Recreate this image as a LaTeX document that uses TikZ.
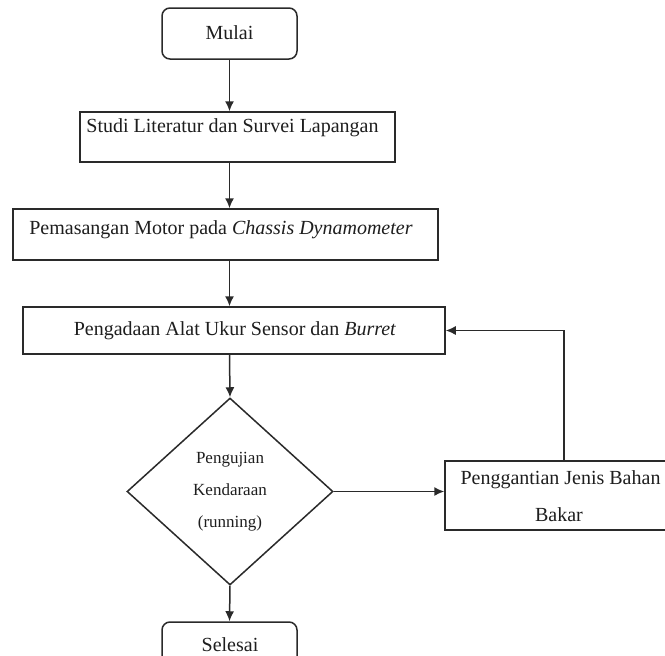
\documentclass[tikz,border=0pt]{standalone}
\usepackage{fontspec}
\setmainfont{Liberation Serif}
\usetikzlibrary{shapes.geometric,arrows.meta}
\definecolor{ln}{HTML}{2A2A2A}
\definecolor{tx}{HTML}{1E1E1E}
\begin{document}
\begin{tikzpicture}[x=1pt,y=-1pt,
  box/.style={draw=ln,line width=1.5pt,inner sep=0pt,minimum width=#1},
  rbox/.style={box=#1,rounded corners=8pt},
  lbl/.style={text=tx,font=\fontsize{20}{24}\selectfont,inner sep=0pt},
  slbl/.style={text=tx,font=\fontsize{17}{20}\selectfont,inner sep=0pt},
  arr/.style={draw=ln,line width=1.5pt,-{Latex[length=10pt,width=9pt]}},
  ln/.style={draw=ln,line width=1.5pt}]
\useasboundingbox (0,0) rectangle (665,656);
\fill[white] (0,0) rectangle (665,656);
% boxes
\node[rbox=135pt,minimum height=51pt] (mulai) at (229.5,33.5) {};
\node[lbl] (tmulai) at (229.5,33) {Mulai};
\node[box=315pt,minimum height=50pt] (b2) at (237.5,137) {};
\node[lbl] (t2) at (232.5,128) {Studi Literatur dan Survei Lapangan};
\node[box=425pt,minimum height=51pt] (b3) at (225.5,234.5) {};
\node[lbl] (t3) at (221,230) {Pemasangan Motor pada \textit{Chassis Dynamometer}};
\node[box=422pt,minimum height=47pt] (b4) at (234,330.5) {};
\node[lbl] (t4) at (235,331) {Pengadaan Alat Ukur Sensor dan \textit{Burret}};
\node[diamond,draw=ln,line width=1.5pt,minimum width=206pt,minimum height=187pt,inner sep=0pt] (dia) at (230,491.5) {};
\node[slbl,align=center] (tdia) at (230,492) {Pengujian\\[12pt]Kendaraan\\[12pt](running)};
\node[box=255pt,minimum height=69pt] (b5) at (572.5,495.5) {};
\node[lbl] (t5a) at (560.5,480) {Penggantian Jenis Bahan};
\node[lbl] (t5b) at (559,515) {Bakar};
\node[rbox=135pt,minimum height=50pt] (selesai) at (229.5,647) {};
\node[lbl] (tsel) at (230,645) {Selesai};
\coordinate (fb) at (564,0);
% connectors
\draw[arr] (mulai.south) -- (mulai.south |- b2.north);
\draw[arr] (mulai.south |- b2.south) -- (mulai.south |- b3.north);
\draw[arr] (mulai.south |- b3.south) -- (mulai.south |- b4.north);
\draw[arr] (mulai.south |- b4.south) -- (dia.north);
\draw[arr] (dia.south) -- (selesai.north);
\draw[arr] (dia.east) -- (dia.east -| b5.west);
\draw[arr] (b5.north -| fb) |- (b4.east);
\end{tikzpicture}
\end{document}
